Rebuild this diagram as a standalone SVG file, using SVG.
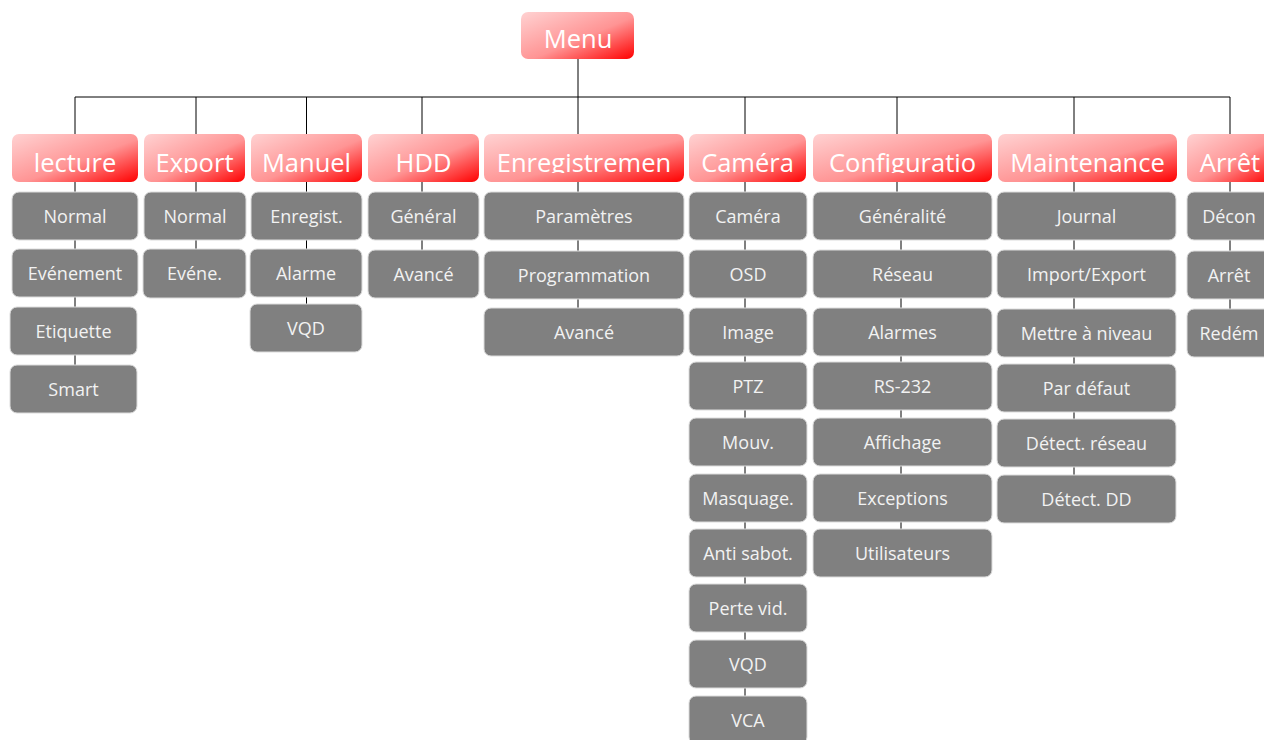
<svg xmlns="http://www.w3.org/2000/svg" width="1264" height="740" viewBox="0 0 1264 740">
<defs>
<linearGradient id="red" x1="0" y1="0" x2="1" y2="1">
<stop offset="0" stop-color="#ffd2d2"/>
<stop offset="0.55" stop-color="#ff9494"/>
<stop offset="1" stop-color="#ff0000"/>
</linearGradient>
<clipPath id="hclip"><rect x="0" y="130" width="1264" height="43"/></clipPath>
</defs>
<style>
.hd{fill:url(#red);}
.ht{font-family:"Open Sans","Liberation Sans",sans-serif;font-size:25.5px;fill:#ffffff;text-anchor:middle;}
.ch{fill:#808080;stroke:#dcdcdc;stroke-width:1;}
.ct{font-family:"Open Sans","Liberation Sans",sans-serif;font-size:18px;fill:#f2f2f2;text-anchor:middle;}
.ln{stroke:#000;stroke-width:1;fill:none;}
</style>
<rect width="1264" height="740" fill="#ffffff"/>
<g id="connectors">
<path class="ln" d="M578 59V97M75 97H1230"/>
<path class="ln" d="M75 97V365M196 97V249M306.5 97V304M422 97V250M578 97V308M745 97V696M897 97V192M901 240V529M1074 97V475M1230 97V309"/>
</g>
<g id="menu"><rect class="hd" x="521" y="12" width="113" height="47" rx="7"/><text class="ht" x="578" y="48">Menu</text></g>
<g id="h-lecture"><rect class="hd" x="12" y="134" width="126" height="48" rx="7"/><text class="ht" x="75" y="172" clip-path="url(#hclip)">lecture</text></g>
<g id="h-export"><rect class="hd" x="144" y="134" width="101" height="48" rx="7"/><text class="ht" x="194.5" y="172" clip-path="url(#hclip)">Export</text></g>
<g id="h-manuel"><rect class="hd" x="251" y="134" width="111" height="48" rx="7"/><text class="ht" x="306.5" y="172" clip-path="url(#hclip)">Manuel</text></g>
<g id="h-hdd"><rect class="hd" x="368" y="134" width="111" height="48" rx="7"/><text class="ht" x="423.5" y="172" clip-path="url(#hclip)">HDD</text></g>
<g id="h-enreg"><rect class="hd" x="484" y="134" width="200" height="48" rx="7"/><text class="ht" x="584" y="172" clip-path="url(#hclip)">Enregistremen</text></g>
<g id="h-camera"><rect class="hd" x="689" y="134" width="117" height="48" rx="7"/><text class="ht" x="747.5" y="172" clip-path="url(#hclip)">Caméra</text></g>
<g id="h-config"><rect class="hd" x="813" y="134" width="179" height="48" rx="7"/><text class="ht" x="902.5" y="172" clip-path="url(#hclip)">Configuratio</text></g>
<g id="h-maint"><rect class="hd" x="998" y="134" width="179" height="48" rx="7"/><text class="ht" x="1087.5" y="172" clip-path="url(#hclip)">Maintenance</text></g>
<g id="h-arret"><rect class="hd" x="1187" y="134" width="86" height="48" rx="7"/><text class="ht" x="1230" y="172" clip-path="url(#hclip)">Arrêt</text></g>

<g id="c-lecture-1"><rect class="ch" x="12" y="192" width="126" height="48" rx="7"/><text class="ct" x="75" y="222.5">Normal</text></g>
<g id="c-lecture-2"><rect class="ch" x="12" y="249" width="126" height="48" rx="7"/><text class="ct" x="75" y="279.5">Evénement</text></g>
<g id="c-lecture-3"><rect class="ch" x="10" y="307" width="127" height="48" rx="7"/><text class="ct" x="73.5" y="337.5">Etiquette</text></g>
<g id="c-lecture-4"><rect class="ch" x="10" y="365" width="127" height="48" rx="7"/><text class="ct" x="73.5" y="395.5">Smart</text></g>

<g id="c-export-1"><rect class="ch" x="144" y="192" width="102" height="48" rx="7"/><text class="ct" x="195" y="222.5">Normal</text></g>
<g id="c-export-2"><rect class="ch" x="143" y="249" width="103" height="49" rx="7"/><text class="ct" x="194.5" y="280">Evéne.</text></g>

<g id="c-manuel-1"><rect class="ch" x="251" y="192" width="111" height="48" rx="7"/><text class="ct" x="306.5" y="222.5">Enregist.</text></g>
<g id="c-manuel-2"><rect class="ch" x="250" y="249" width="112" height="48" rx="7"/><text class="ct" x="306" y="279.5">Alarme</text></g>
<g id="c-manuel-3"><rect class="ch" x="250" y="304" width="112" height="48" rx="7"/><text class="ct" x="306" y="334.5">VQD</text></g>

<g id="c-hdd-1"><rect class="ch" x="368" y="192" width="111" height="48" rx="7"/><text class="ct" x="423.5" y="222.5">Général</text></g>
<g id="c-hdd-2"><rect class="ch" x="368" y="250" width="111" height="48" rx="7"/><text class="ct" x="423.5" y="280.5">Avancé</text></g>

<g id="c-enreg-1"><rect class="ch" x="484" y="192" width="200" height="48" rx="7"/><text class="ct" x="584" y="222.5">Paramètres</text></g>
<g id="c-enreg-2"><rect class="ch" x="484" y="251" width="200" height="48" rx="7"/><text class="ct" x="584" y="281.5">Programmation</text></g>
<g id="c-enreg-3"><rect class="ch" x="484" y="308" width="200" height="48" rx="7"/><text class="ct" x="584" y="338.5">Avancé</text></g>

<g id="c-cam-1"><rect class="ch" x="689" y="192" width="118" height="48" rx="7"/><text class="ct" x="748" y="222.5">Caméra</text></g>
<g id="c-cam-2"><rect class="ch" x="689" y="250" width="118" height="48" rx="7"/><text class="ct" x="748" y="280.5">OSD</text></g>
<g id="c-cam-3"><rect class="ch" x="689" y="308" width="118" height="48" rx="7"/><text class="ct" x="748" y="338.5">Image</text></g>
<g id="c-cam-4"><rect class="ch" x="689" y="362" width="118" height="48" rx="7"/><text class="ct" x="748" y="392.5">PTZ</text></g>
<g id="c-cam-5"><rect class="ch" x="689" y="418" width="118" height="48" rx="7"/><text class="ct" x="748" y="448.5">Mouv.</text></g>
<g id="c-cam-6"><rect class="ch" x="689" y="474" width="118" height="48" rx="7"/><text class="ct" x="748" y="504.5">Masquage.</text></g>
<g id="c-cam-7"><rect class="ch" x="689" y="529" width="118" height="48" rx="7"/><text class="ct" x="748" y="559.5">Anti sabot.</text></g>
<g id="c-cam-8"><rect class="ch" x="689" y="584" width="118" height="48" rx="7"/><text class="ct" x="748" y="614.5">Perte vid.</text></g>
<g id="c-cam-9"><rect class="ch" x="689" y="640" width="118" height="48" rx="7"/><text class="ct" x="748" y="670.5">VQD</text></g>
<g id="c-cam-10"><rect class="ch" x="689" y="696" width="118" height="48" rx="7"/><text class="ct" x="748" y="726.5">VCA</text></g>

<g id="c-cfg-1"><rect class="ch" x="813" y="192" width="179" height="48" rx="7"/><text class="ct" x="902.5" y="222.5">Généralité</text></g>
<g id="c-cfg-2"><rect class="ch" x="813" y="250" width="179" height="48" rx="7"/><text class="ct" x="902.5" y="280.5">Réseau</text></g>
<g id="c-cfg-3"><rect class="ch" x="813" y="308" width="179" height="48" rx="7"/><text class="ct" x="902.5" y="338.5">Alarmes</text></g>
<g id="c-cfg-4"><rect class="ch" x="813" y="362" width="179" height="48" rx="7"/><text class="ct" x="902.5" y="392.5">RS-232</text></g>
<g id="c-cfg-5"><rect class="ch" x="813" y="418" width="179" height="48" rx="7"/><text class="ct" x="902.5" y="448.5">Affichage</text></g>
<g id="c-cfg-6"><rect class="ch" x="813" y="474" width="179" height="48" rx="7"/><text class="ct" x="902.5" y="504.5">Exceptions</text></g>
<g id="c-cfg-7"><rect class="ch" x="813" y="529" width="179" height="48" rx="7"/><text class="ct" x="902.5" y="559.5">Utilisateurs</text></g>

<g id="c-mnt-1"><rect class="ch" x="997" y="192" width="179" height="48" rx="7"/><text class="ct" x="1086.5" y="222.5">Journal</text></g>
<g id="c-mnt-2"><rect class="ch" x="997" y="250" width="179" height="48" rx="7"/><text class="ct" x="1086.5" y="280.5">Import/Export</text></g>
<g id="c-mnt-3"><rect class="ch" x="997" y="309" width="179" height="48" rx="7"/><text class="ct" x="1086.5" y="339.5">Mettre à niveau</text></g>
<g id="c-mnt-4"><rect class="ch" x="997" y="364" width="179" height="48" rx="7"/><text class="ct" x="1086.5" y="394.5">Par défaut</text></g>
<g id="c-mnt-5"><rect class="ch" x="997" y="419" width="179" height="48" rx="7"/><text class="ct" x="1086.5" y="449.5">Détect. réseau</text></g>
<g id="c-mnt-6"><rect class="ch" x="997" y="475" width="179" height="48" rx="7"/><text class="ct" x="1086.5" y="505.5">Détect. DD</text></g>

<g id="c-arr-1"><rect class="ch" x="1187" y="192" width="84" height="48" rx="7"/><text class="ct" x="1229" y="222.5">Décon</text></g>
<g id="c-arr-2"><rect class="ch" x="1187" y="251" width="84" height="48" rx="7"/><text class="ct" x="1229" y="281.5">Arrêt</text></g>
<g id="c-arr-3"><rect class="ch" x="1187" y="309" width="84" height="48" rx="7"/><text class="ct" x="1229" y="339.5">Redém</text></g>
</svg>
